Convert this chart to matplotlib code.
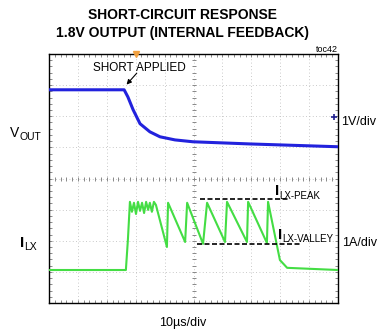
import matplotlib
matplotlib.use('Agg')
import matplotlib.pyplot as plt
import numpy as np

W, H = 382, 334
FONT = ['Liberation Sans Narrow', 'Liberation Sans', 'DejaVu Sans']
plt.rcParams['font.family'] = FONT

# scope traces, in graticule divisions (10 x 8)
vout_t = [0, 2.60, 2.73, 2.91, 3.15, 3.49, 3.84, 4.36, 4.98, 6.96, 10]
vout_v = [6.85, 6.85, 6.62, 6.21, 5.76, 5.50, 5.34, 5.24, 5.18, 5.11, 5.02]

ilx_t = [0, 2.66, 2.73, 2.80, 2.87, 2.94, 3.01, 3.08, 3.15, 3.22, 3.29, 3.36,
         3.43, 3.49, 3.56, 3.63, 3.70, 4.08, 4.12, 4.71, 4.78, 5.33, 5.47,
         6.09, 6.16, 6.85, 6.89, 7.54, 7.58, 7.99, 8.24, 10]
ilx_v = [1.06, 1.06, 2.03, 3.25, 2.93, 3.22, 2.86, 3.25, 2.96, 3.22, 2.89, 3.25,
         2.99, 3.22, 2.93, 3.25, 3.15, 1.80, 3.22, 1.96, 3.22, 1.90, 3.22,
         1.96, 3.25, 1.96, 3.25, 1.93, 3.25, 1.38, 1.13, 1.06]

peak_level, peak_span = 3.34, (5.22, 8.34)
valley_level, valley_span = 1.90, (5.12, 8.69)

fig = plt.figure(figsize=(W / 100, H / 100), dpi=100)
ax = fig.add_axes([49 / W, 31 / H, 289 / W, 249 / H])
ax.set_xlim(0, 10)
ax.set_ylim(0, 8)

# graticule
for gx in range(1, 10):
    ax.axvline(gx, color='#b8b8b8', lw=0.6, ls=(0, (1, 3)), zorder=1)
for gy in range(1, 8):
    ax.axhline(gy, color='#b8b8b8', lw=0.6, ls=(0, (1, 3)), zorder=1)
fine_x = np.arange(0, 10.01, 0.2)
fine_y = np.arange(0, 8.01, 0.2)
ax.plot(fine_x, np.full_like(fine_x, 4), ls='none', marker='|', ms=3, mew=0.7, color='#888888', zorder=1)
ax.plot(np.full_like(fine_y, 5), fine_y, ls='none', marker='_', ms=3, mew=0.7, color='#888888', zorder=1)
ax.set_xticks(np.arange(0, 10.01, 0.2))
ax.set_yticks(np.arange(0, 8.01, 0.2))
ax.tick_params(direction='in', length=2, width=0.6, colors='#777777',
               labelbottom=False, labelleft=False, top=True, right=True)
for s in ax.spines.values():
    s.set_linewidth(1.0)
    s.set_color('black')

ax.plot(vout_t, vout_v, color='#2222dd', lw=2.2, zorder=3)
ax.plot(ilx_t, ilx_v, color='#44dd44', lw=1.5, zorder=3)

ax.hlines(peak_level, *peak_span, colors='black', linestyles=(0, (3, 1.5)), lw=1.2, zorder=4)
ax.hlines(valley_level, *valley_span, colors='black', linestyles=(0, (3, 1.5)), lw=1.2, zorder=4)

ax.plot([9.86], [5.98], marker='+', ms=5, mew=1.2, color='#202090', clip_on=False, zorder=5)
ax.plot([3.01], [8.0], marker='v', ms=4, color='#f0a040', clip_on=False, zorder=5)

ax.annotate('', xy=(2.62, 6.95), xytext=(3.1, 7.45),
            arrowprops=dict(arrowstyle='-|>', color='black', lw=0.8, mutation_scale=7))


def px(x, y):
    return x / W, 1 - y / H


fig.text(*px(183, 15), 'SHORT-CIRCUIT RESPONSE', ha='center', va='center',
         fontsize=10, fontweight='bold')
fig.text(*px(183, 33), '1.8V OUTPUT (INTERNAL FEEDBACK)', ha='center', va='center',
         fontsize=10, fontweight='bold')
fig.text(*px(338, 49), 'toc42', ha='right', va='center', fontsize=6.5)
fig.text(*px(139, 68), 'SHORT APPLIED', ha='center', va='center', fontsize=8.5)

fig.text(*px(10, 133), 'V', ha='left', va='center', fontsize=10)
fig.text(*px(19.5, 137), 'OUT', ha='left', va='center', fontsize=7.5)
fig.text(*px(20, 243), 'I', ha='left', va='center', fontsize=11, fontweight='bold')
fig.text(*px(24, 247), 'LX', ha='left', va='center', fontsize=7.5)

fig.text(*px(275, 191), 'I', ha='left', va='center', fontsize=11, fontweight='bold')
fig.text(*px(279, 196), 'LX-PEAK', ha='left', va='center', fontsize=7)
fig.text(*px(278, 235), 'I', ha='left', va='center', fontsize=11, fontweight='bold')
fig.text(*px(282, 239), 'LX-VALLEY', ha='left', va='center', fontsize=7)

fig.text(*px(359, 122), '1V/div', ha='center', va='center', fontsize=9)
fig.text(*px(360, 243), '1A/div', ha='center', va='center', fontsize=9)
fig.text(*px(183, 323), '10\u00b5s/div', ha='center', va='center', fontsize=9)

fig.savefig('out.png', dpi=100)
